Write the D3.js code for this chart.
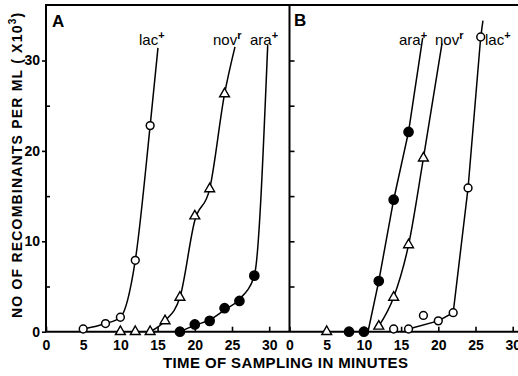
<!DOCTYPE html>
<html>
<head>
<meta charset="utf-8">
<script src="https://cdn.jsdelivr.net/npm/d3@7"></script>
<style>
  body { margin: 0; background: #fff; }
  svg { display: block; }
  text { font-family: "Liberation Sans", sans-serif; fill: #000; }
</style>
</head>
<body>
<div id="chart"></div>
<script>
"use strict";

// --- data (minutes, recombinants per ml x10^3) ---
const xTicks = [0, 5, 10, 15, 20, 25, 30];
const yMajor = [0, 10, 20, 30];
const yMinor = [5, 15, 25];
const yAllB = [5, 10, 15, 20, 25, 30];

// Panel A, sampled points
const lacA_t = [5, 8, 10, 12, 14];
const lacA_n = [0.3, 0.9, 1.6, 7.9, 22.8];
const novA_t = [10, 12, 14, 16, 18, 20, 22, 24];
const novA_n = [0, 0, 0, 1.2, 3.8, 12.8, 15.8, 26.3];
const araA_t = [18, 20, 22, 24, 26, 28];
const araA_n = [0, 0.8, 1.2, 2.6, 3.4, 6.2];
// Panel A, drawn curves (run on past the last point)
const lacA_line_t = [5, 8, 10, 12, 14, 15.05];
const lacA_line_n = [0.3, 0.9, 1.6, 7.9, 22.8, 31.4];
const novA_line_t = [14, 16, 18, 20, 22, 24, 25.4];
const novA_line_n = [0, 1.2, 3.8, 12.3, 15.8, 26.3, 31.5];
const araA_line_t = [18, 20, 22, 24, 26, 28, 29.8];
const araA_line_n = [0, 0.7, 1.3, 2.4, 3.6, 6.2, 31.7];

// Panel B, sampled points
const araB_t = [8, 10, 12, 14, 16];
const araB_n = [0, 0, 5.6, 14.6, 22.1];
const novB_t = [5, 12, 14, 16, 18];
const novB_n = [0, 0.6, 3.8, 9.6, 19.2];
const lacB_t = [14, 16, 18, 20, 22, 24, 25.7];
const lacB_n = [0.3, 0.3, 1.8, 1.2, 2.1, 15.9, 32.6];
// Panel B, drawn curves
const araB_line_t = [10, 10.55, 12, 14, 16, 17.9];
const araB_line_n = [0, 0, 5.6, 14.6, 22.1, 32.5];
const novB_line_t = [12, 14, 16, 18, 20.5];
const novB_line_n = [0.6, 3.8, 9.6, 19.2, 31.9];
const lacB_line_t = [16, 20, 22, 24, 25.7, 26.0];
const lacB_line_n = [0.3, 1.2, 2.1, 15.9, 32.6, 34.4];

const zip = (t, n) => t.map((v, i) => [v, n[i]]);

const width = 518, height = 376;
const frameTop = 5, frameRight = 518;

const svg = d3.select("#chart").append("svg")
  .attr("width", width)
  .attr("height", height);

const y = d3.scaleLinear().domain([0, 30]).range([331.7, 60.5]);
const xA = d3.scaleLinear().domain([0, 30]).range([46, 269.2]);
const xB = d3.scaleLinear().domain([0, 30]).range([289.5, 512.7]);

// Frame
const frame = svg.append("g")
  .attr("fill", "none")
  .attr("stroke", "#000")
  .attr("stroke-width", 2);
frame.append("path")
  .attr("d", `M${xA(0)},${y(0)}V${frameTop}H${frameRight}`);
frame.append("path")
  .attr("d", `M${xA(0)},${y(0)}H${frameRight}`);
frame.append("path")
  .attr("d", `M${xB(0)},${y(0)}V${frameTop}`);

function styleAxis(g) {
  g.select(".domain").remove();
  g.selectAll(".tick line").attr("stroke", "#000").attr("stroke-width", 1.6);
  g.selectAll(".tick text")
    .attr("font-size", 14)
    .attr("font-weight", "bold")
    .attr("fill", "#000");
}

// x axes, ticks pointing up into the plot
[xA, xB].forEach(function(x) {
  svg.append("g")
    .attr("transform", `translate(0,${y(0)})`)
    .call(d3.axisBottom(x).tickValues(xTicks).tickSize(-5).tickPadding(8))
    .call(styleAxis);
});

// y axis, panel A: labelled ticks outside, minor ticks inside
svg.append("g")
  .attr("transform", `translate(${xA(0)},0)`)
  .call(d3.axisLeft(y).tickValues(yMajor).tickSize(4).tickPadding(2))
  .call(styleAxis);
svg.append("g")
  .attr("transform", `translate(${xA(0)},0)`)
  .call(d3.axisRight(y).tickValues(yMinor).tickSize(4).tickFormat(""))
  .call(styleAxis);
// panel B left edge
svg.append("g")
  .attr("transform", `translate(${xB(0)},0)`)
  .call(d3.axisRight(y).tickValues(yAllB).tickSize(5).tickFormat(""))
  .call(styleAxis);

// curves
function drawLine(x, pts, curve) {
  const line = d3.line()
    .x(d => x(d[0]))
    .y(d => y(d[1]))
    .curve(curve);
  svg.append("path")
    .datum(pts)
    .attr("d", line)
    .attr("fill", "none")
    .attr("stroke", "#000")
    .attr("stroke-width", 1.5);
}

drawLine(xA, zip(lacA_line_t, lacA_line_n), d3.curveMonotoneX);
drawLine(xA, zip(novA_line_t, novA_line_n), d3.curveMonotoneX);
drawLine(xA, zip(araA_line_t, araA_line_n), d3.curveMonotoneX);
drawLine(xB, zip(araB_line_t, araB_line_n), d3.curveLinear);
drawLine(xB, zip(novB_line_t, novB_line_n), d3.curveMonotoneX);
drawLine(xB, zip(lacB_line_t, lacB_line_n), d3.curveLinear);

// markers
function drawMarkers(x, pts, kind) {
  const g = svg.append("g");
  if (kind === "triangle") {
    g.selectAll("path").data(pts).enter().append("path")
      .attr("d", d3.symbol(d3.symbolTriangle, 42))
      .attr("transform", d => `translate(${x(d[0])},${y(d[1])})`)
      .attr("fill", "#fff")
      .attr("stroke", "#000")
      .attr("stroke-width", 1.4);
  } else {
    g.selectAll("circle").data(pts).enter().append("circle")
      .attr("cx", d => x(d[0]))
      .attr("cy", d => y(d[1]))
      .attr("r", kind === "filled" ? 4.6 : 3.9)
      .attr("fill", kind === "filled" ? "#000" : "#fff")
      .attr("stroke", "#000")
      .attr("stroke-width", 1.5);
  }
}

drawMarkers(xA, zip(lacA_t, lacA_n), "open");
drawMarkers(xA, zip(novA_t, novA_n), "triangle");
drawMarkers(xA, zip(araA_t, araA_n), "filled");
drawMarkers(xB, zip(araB_t, araB_n), "filled");
drawMarkers(xB, zip(novB_t, novB_n), "triangle");
drawMarkers(xB, zip(lacB_t, lacB_n), "open");

// curve names
const names = [
  ["lac", "+", 139, 45],
  ["nov", "r", 213, 45],
  ["ara", "+", 250, 45],
  ["ara", "+", 399, 45],
  ["nov", "r", 435, 45],
  ["lac", "+", 485, 45]
];
names.forEach(function(d) {
  const t = svg.append("text")
    .attr("x", d[2])
    .attr("y", d[3])
    .attr("font-size", 15);
  t.append("tspan").text(d[0]);
  t.append("tspan")
    .attr("dy", -6)
    .attr("font-size", 11)
    .attr("font-weight", "bold")
    .text(d[1]);
});

// panel letters
svg.append("text").attr("x", 52).attr("y", 27)
  .attr("font-size", 17).attr("font-weight", "bold").text("A");
svg.append("text").attr("x", 294).attr("y", 26)
  .attr("font-size", 17).attr("font-weight", "bold").text("B");

// axis titles
svg.append("text")
  .attr("x", 163)
  .attr("y", 368)
  .attr("font-size", 15)
  .attr("font-weight", "bold")
  .attr("textLength", 245)
  .attr("lengthAdjust", "spacing")
  .text("TIME OF SAMPLING IN MINUTES");

const yt = svg.append("text")
  .attr("transform", "translate(21.5,318) rotate(-90)")
  .attr("font-size", 14)
  .attr("font-weight", "bold")
  .attr("letter-spacing", 1.2);
yt.append("tspan").text("NO OF RECOMBINANTS PER ML ( X10");
yt.append("tspan").attr("dy", -6).attr("font-size", 10).text("3");
yt.append("tspan").attr("dy", 6).text(")");
</script>
</body>
</html>
